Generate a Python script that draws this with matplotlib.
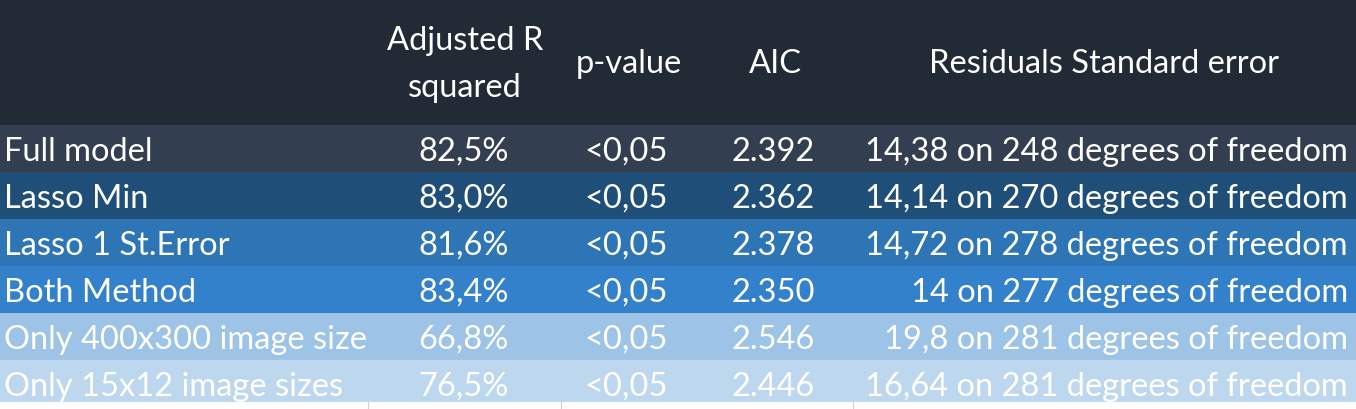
import matplotlib
matplotlib.use("Agg")
import matplotlib.pyplot as plt
from matplotlib.patches import Rectangle

models = ["Full model", "Lasso Min", "Lasso 1 St.Error", "Both Method",
          "Only 400x300 image size", "Only 15x12 image sizes"]
adj_r2 = ["82,5%", "83,0%", "81,6%", "83,4%", "66,8%", "76,5%"]
p_values = ["<0,05", "<0,05", "<0,05", "<0,05", "<0,05", "<0,05"]
aic = ["2.392", "2.362", "2.378", "2.350", "2.546", "2.446"]
resid_se = ["14,38 on 248 degrees of freedom", "14,14 on 270 degrees of freedom",
            "14,72 on 278 degrees of freedom", "14 on 277 degrees of freedom",
            "19,8 on 281 degrees of freedom", "16,64 on 281 degrees of freedom"]
headers = ["Adjusted R\nsquared", "p-value", "AIC", "Residuals Standard error"]

row_colors = ["#333f50", "#1f4e79", "#2e75b6", "#3481cb", "#9dc3e6", "#bdd7ee"]
header_color = "#222a35"

W, H = 1356, 409
fig = plt.figure(figsize=(W / 100, H / 100), dpi=100)
ax = fig.add_axes([0, 0, 1, 1])
ax.set_xlim(0, W)
ax.set_ylim(H, 0)
ax.axis("off")

font = dict(family=["Lato", "DejaVu Sans"], fontweight="normal", color="white", fontsize=23.5)

header_h = 125
row_h = 47
ax.add_patch(Rectangle((0, 0), W, header_h, color=header_color, lw=0))
for i, c in enumerate(row_colors):
    top = header_h + i * row_h
    h = row_h if i < len(row_colors) - 1 else 402 - top
    ax.add_patch(Rectangle((0, top), W, h, color=c, lw=0))

# faint column separators in bottom strip
for x in (368, 561, 853):
    ax.plot([x, x], [402, 409], color="#d0d0d0", lw=0.8)

# headers
ax.text(465, 50, "Adjusted R", ha="center", va="baseline", **font)
ax.text(465, 97, "squared", ha="center", va="baseline", **font)
ax.text(629, 73, headers[1], ha="center", va="baseline", **font)
ax.text(775, 73, headers[2], ha="center", va="baseline", **font)
ax.text(1104, 73, headers[3], ha="center", va="baseline", **font)

for i in range(len(models)):
    base = header_h + i * row_h + 36
    ax.text(4, base, models[i], ha="left", va="baseline", **font)
    ax.text(509, base, adj_r2[i], ha="right", va="baseline", **font)
    ax.text(668, base, p_values[i], ha="right", va="baseline", **font)
    ax.text(815, base, aic[i], ha="right", va="baseline", **font)
    ax.text(1348, base, resid_se[i], ha="right", va="baseline", **font)

fig.savefig("out.png", dpi=100, facecolor="white")
